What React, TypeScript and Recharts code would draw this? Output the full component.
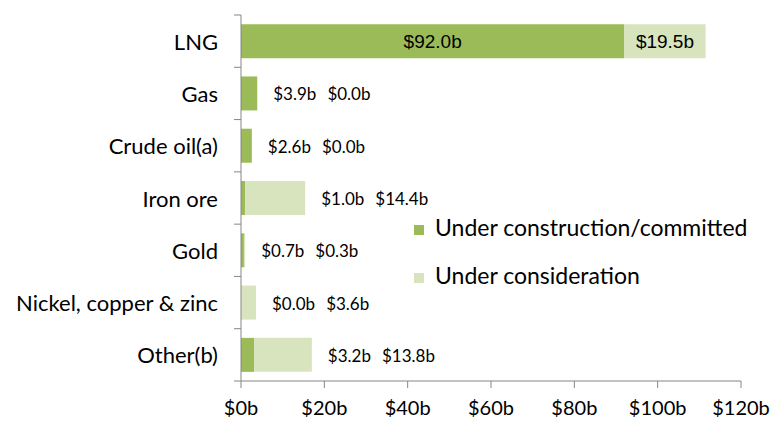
import { ComposedChart, Bar, Line, XAxis, YAxis, LabelList, Legend } from "recharts"

const categories = ["LNG", "Gas", "Crude oil(a)", "Iron ore", "Gold", "Nickel, copper & zinc", "Other(b)"]
const committed = [92.0, 3.9, 2.6, 1.0, 0.7, 0.0, 3.2]
const consideration = [19.5, 0.0, 0.0, 14.4, 0.3, 3.6, 13.8]
const xTicks = [0, 20, 40, 60, 80, 100, 120]
const seriesNames = ["Under construction/committed", "Under consideration"]

const data = categories.map((name, i) => ({
    name,
    committed: committed[i],
    consideration: consideration[i],
    total: committed[i] + consideration[i],
}))

const FONT = "Lato, 'Open Sans', sans-serif"
const ARIAL = "'Liberation Sans', Arial, sans-serif"
const DARK = "#9BBB59"
const LIGHT = "#D7E4BD"
const AXIS = "#868686"
const PLOT_H = 366
const BAND = PLOT_H / categories.length

const fmt = (v: number) => `$${v.toFixed(1)}b`
const isInside = (i: number) => committed[i] + consideration[i] > 50

function CategoryTick(props: any) {
    const { x, y, payload, index } = props
    const axisX = x + 23
    return (
        <g>
            <line x1={axisX - 7} x2={axisX} y1={y - BAND / 2} y2={y - BAND / 2} stroke={AXIS} />
            {index === categories.length - 1 && (
                <line x1={axisX - 7} x2={axisX} y1={y + BAND / 2} y2={y + BAND / 2} stroke={AXIS} />
            )}
            <text x={x} y={y} textAnchor="end" dominantBaseline="central" fill="#000" fontFamily={FONT} fontSize={22}>
                {payload.value}
            </text>
        </g>
    )
}

// labels drawn inside the segment, only for the long LNG bar
function insideLabel(props: any) {
    const vb = props.viewBox ?? props
    if (!(vb.width > 60)) return null
    return (
        <text x={vb.x + vb.width / 2} y={vb.y + vb.height / 2} textAnchor="middle" dominantBaseline="central"
            fill="#000" fontFamily={ARIAL} fontSize={19}>
            {fmt(Number(props.value))}
        </text>
    )
}

// both values written after the end of the stacked bar
function outsideLabel(props: any) {
    const { index } = props
    if (index == null || isInside(index)) return null
    const x = props.x ?? props.viewBox?.x
    const y = props.y ?? props.viewBox?.y
    return (
        <text x={x + 16} y={y} dominantBaseline="central" fill="#000" fontFamily={FONT} fontSize={17}>
            <tspan>{fmt(committed[index])}</tspan>
            <tspan dx={11}>{fmt(consideration[index])}</tspan>
        </text>
    )
}

const renderLegend = () => (
    <div style={{ fontFamily: FONT, fontSize: 23, color: "#000" }}>
        {seriesNames.map((label, i) => (
            <div key={label} style={{ display: "flex", alignItems: "center", height: 48 }}>
                <span style={{ width: 10, height: 10, background: i === 0 ? DARK : LIGHT, marginRight: 11, marginTop: 6 }} />
                {label}
            </div>
        ))}
    </div>
)

export default function App() {
    return (
        <div style={{ position: "absolute", left: 0, top: 0, background: "#fff" }}>
            <ComposedChart
                width={773}
                height={427}
                data={data}
                layout="vertical"
                barCategoryGap="17.5%"
                margin={{ top: 15, right: 32, left: 0, bottom: 6 }}
            >
                <XAxis
                    type="number"
                    domain={[0, 120]}
                    ticks={xTicks}
                    tickFormatter={(v) => `$${v}b`}
                    height={40}
                    tick={{ fill: "#000", fontSize: 20, fontFamily: FONT }}
                    axisLine={{ stroke: AXIS }}
                    tickLine={{ stroke: AXIS }}
                    tickSize={7}
                    tickMargin={13}
                />
                <YAxis
                    type="category"
                    dataKey="name"
                    width={241}
                    interval={0}
                    tick={<CategoryTick />}
                    tickLine={false}
                    tickSize={0}
                    tickMargin={23}
                    axisLine={{ stroke: AXIS }}
                />
                <Legend
                    content={renderLegend}
                    layout="horizontal"
                    verticalAlign="middle"
                    align="center"
                    wrapperStyle={{ left: 414, top: 203, width: 360, bottom: "auto" }}
                />
                <Bar dataKey="committed" stackId="a" fill={DARK} isAnimationActive={false}>
                    <LabelList dataKey="committed" content={insideLabel} />
                </Bar>
                <Bar dataKey="consideration" stackId="a" fill={LIGHT} isAnimationActive={false}>
                    <LabelList dataKey="consideration" content={insideLabel} />
                </Bar>
                <Line
                    dataKey="total"
                    stroke="none"
                    dot={false}
                    activeDot={false}
                    legendType="none"
                    isAnimationActive={false}
                >
                    <LabelList dataKey="total" content={outsideLabel} />
                </Line>
            </ComposedChart>
        </div>
    )
}
